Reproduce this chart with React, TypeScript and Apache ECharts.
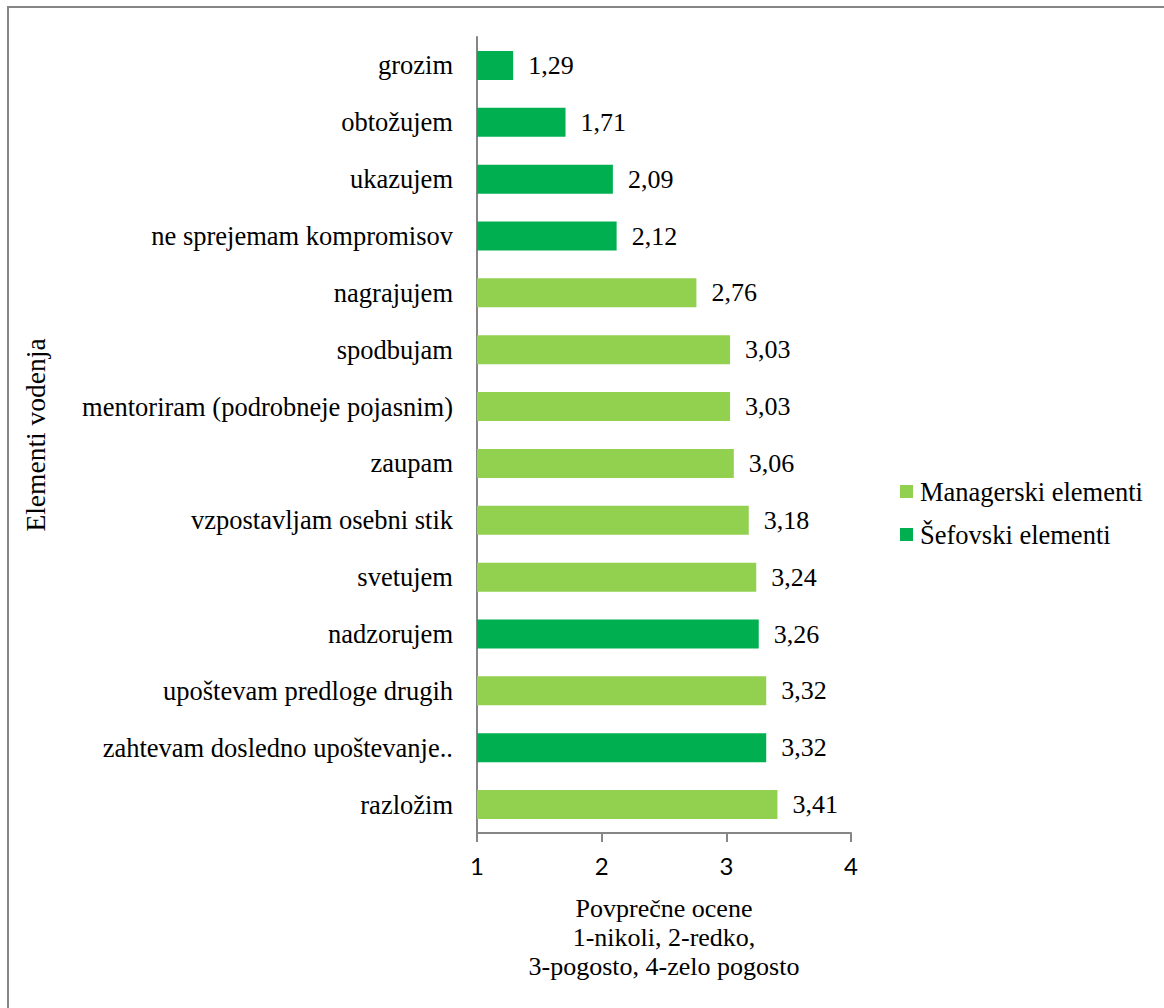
import React, { useEffect, useRef } from "react";
import * as echarts from "echarts";

const categories = [
  "grozim",
  "obtožujem",
  "ukazujem",
  "ne sprejemam kompromisov",
  "nagrajujem",
  "spodbujam",
  "mentoriram (podrobneje pojasnim)",
  "zaupam",
  "vzpostavljam osebni stik",
  "svetujem",
  "nadzorujem",
  "upoštevam predloge drugih",
  "zahtevam dosledno upoštevanje..",
  "razložim",
];

const managerskiValues = [null, null, null, null, 2.76, 3.03, 3.03, 3.06, 3.18, 3.24, null, 3.32, null, 3.41];
const sefovskiValues = [1.29, 1.71, 2.09, 2.12, null, null, null, null, null, null, 3.26, null, 3.32, null];

const xTicks = { min: 1, max: 4, interval: 1 };

const SERIF = "Liberation Serif";
const SANS = "Lato";

export default function App() {
  const ref = useRef<HTMLDivElement>(null);
  useEffect(() => {
    document.body.style.margin = "0";
    const chart = echarts.init(ref.current!, null, { renderer: "svg" });
    const label = {
      show: true,
      position: "right",
      distance: 15,
      fontFamily: SERIF,
      fontSize: 26,
      color: "#000",
      formatter: (p: any) => (p.value == null ? "" : Number(p.value).toFixed(2).replace(".", ",")),
    };
    chart.setOption({
      animation: false,
      backgroundColor: "#fff",
      graphic: [
        {
          type: "rect",
          shape: { x: 8, y: 7, width: 1300, height: 1100 },
          style: { fill: "none", stroke: "#868686", lineWidth: 2 },
          silent: true,
        },
      ],
      grid: { left: 477, right: 313, top: 37, bottom: 175, containLabel: false },
      legend: {
        orient: "vertical",
        left: 900,
        top: 478,
        padding: 0,
        itemWidth: 13,
        itemHeight: 13,
        itemGap: 16,
        icon: "rect",
        data: ["Managerski elementi", "Šefovski elementi"],
        textStyle: { fontFamily: SERIF, fontSize: 26.5, color: "#000", padding: [0, 0, 0, 2] },
      },
      xAxis: {
        type: "value",
        min: xTicks.min,
        max: xTicks.max,
        interval: xTicks.interval,
        name: "Povprečne ocene\n1-nikoli, 2-redko,\n3-pogosto, 4-zelo pogosto",
        nameLocation: "middle",
        nameGap: 61,
        nameTextStyle: {
          fontFamily: SERIF,
          fontSize: 26,
          color: "#000",
          lineHeight: 29,
          align: "center",
          verticalAlign: "top",
        },
        axisLine: { show: true, lineStyle: { color: "#868686", width: 2 } },
        axisTick: { show: true, length: 9, lineStyle: { color: "#868686", width: 2 } },
        axisLabel: { fontFamily: SANS, fontSize: 24, color: "#000", margin: 20 },
        splitLine: { show: false },
      },
      yAxis: {
        type: "category",
        inverse: true,
        data: categories,
        name: "Elementi vodenja",
        nameLocation: "middle",
        nameGap: 428,
        nameRotate: 90,
        nameTextStyle: { fontFamily: SERIF, fontSize: 27.5, color: "#000" },
        axisLine: { show: true, lineStyle: { color: "#868686", width: 2 } },
        axisTick: { show: false },
        axisLabel: { fontFamily: SERIF, fontSize: 26.5, color: "#000", margin: 24 },
        splitLine: { show: false },
      },
      series: [
        {
          name: "Managerski elementi",
          type: "bar",
          data: managerskiValues,
          barWidth: "51%",
          barGap: "-100%",
          itemStyle: { color: "#92D050" },
          label,
        },
        {
          name: "Šefovski elementi",
          type: "bar",
          data: sefovskiValues,
          barWidth: "51%",
          barGap: "-100%",
          itemStyle: { color: "#00B050" },
          label,
        },
      ],
    });
    return () => chart.dispose();
  }, []);
  return <div ref={ref} style={{ width: 1164, height: 1008 }} />;
}
